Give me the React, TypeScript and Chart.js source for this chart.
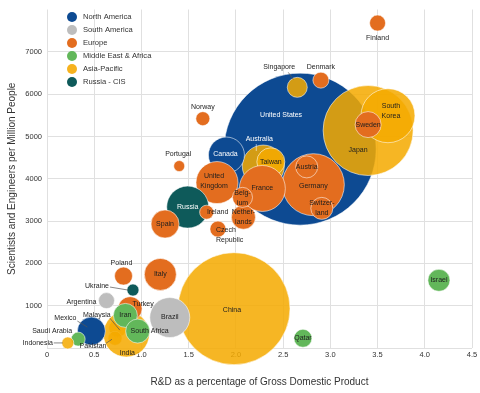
import React, { useEffect, useRef } from "react";
import { Chart, registerables } from "chart.js";
Chart.register(...registerables);

const FONT = "'Liberation Sans', Arial, sans-serif";

const regions = ["North America", "South America", "Europe", "Middle East & Africa", "Asia-Pacific", "Russia - CIS"];
const regionColors = ["#0d4a92", "#bdbdbd", "#e36d1f", "#62b75a", "rgba(244,170,0,0.86)", "#0e5a5a"];
const legendColors = ["#0d4a92", "#bdbdbd", "#e36d1f", "#62b75a", "#f6b21e", "#0e5a5a"];

// countries in drawing order (back to front)
const countries = [
  "United States", "China", "Japan", "South Korea", "Australia", "Taiwan", "Germany", "France",
  "Canada", "United Kingdom", "Russia", "Malaysia", "Pakistan", "India", "Brazil", "Italy", "Spain",
  "Sweden", "Netherlands", "Belgium", "Austria", "Switzerland", "Ireland", "Czech Republic", "Turkey",
  "Iran", "South Africa", "Mexico", "Israel", "Singapore", "Denmark", "Finland", "Norway", "Portugal",
  "Poland", "Ukraine", "Argentina", "Qatar", "Saudi Arabia", "Indonesia",
];
const countryRegion = [
  0, 4, 4, 4, 4, 4, 2, 2,
  0, 2, 5, 4, 4, 4, 1, 2, 2,
  2, 2, 2, 2, 2, 2, 2, 2,
  3, 3, 0, 3, 4, 2, 2, 2, 2,
  2, 5, 1, 3, 3, 4,
];
const rdPercent = [
  2.68, 1.98, 3.40, 3.61, 2.29, 2.37, 2.82, 2.28,
  1.90, 1.80, 1.49, 0.75, 0.72, 0.84, 1.30, 1.20, 1.25,
  3.40, 2.08, 2.07, 2.75, 2.91, 1.69, 1.81, 0.88,
  0.83, 0.96, 0.47, 4.15, 2.65, 2.90, 3.50, 1.65, 1.40,
  0.81, 0.91, 0.63, 2.71, 0.33, 0.22,
];
const scientistsPerMillion = [
  4700, 930, 5140, 5490, 4300, 4400, 3860, 3770,
  4560, 3910, 3330, 470, 230, 330, 720, 1740, 2930,
  5280, 3090, 3560, 4280, 3300, 3210, 2810, 930,
  770, 400, 400, 1600, 6160, 6330, 7680, 5420, 4300,
  1700, 1370, 1120, 230, 210, 120,
];
const bubbleSize = [
  76, 56, 45, 27, 21, 14, 31, 23,
  18, 21, 21, 9, 7, 23, 20, 16, 14,
  13, 12, 10, 11, 11, 7, 8, 12,
  12, 12, 14, 11, 10, 8, 8, 7, 5.5,
  9, 6, 8, 9, 7, 6,
];

const xTickValues = [0, 0.5, 1, 1.5, 2, 2.5, 3, 3.5, 4, 4.5];

type Lbl = { t: string[]; dx: number; dy: number; w?: boolean; left?: boolean; line?: number[] };
const labelStyle: Record<string, Lbl> = {
  "United States": { t: ["United States"], dx: -19, dy: -34, w: true },
  China: { t: ["China"], dx: -2, dy: 1 },
  Japan: { t: ["Japan"], dx: -10, dy: 20 },
  "South Korea": { t: ["South", "Korea"], dx: 3, dy: -10 },
  Australia: { t: ["Australia"], dx: -4, dy: -27, w: true, line: [-7, -22, -7, -15] },
  Taiwan: { t: ["Taiwan"], dx: 0, dy: 0 },
  Germany: { t: ["Germany"], dx: 0, dy: 1 },
  France: { t: ["France"], dx: 0, dy: 0 },
  Canada: { t: ["Canada"], dx: -1, dy: -1, w: true },
  "United Kingdom": { t: ["United", "Kingdom"], dx: -3, dy: -6 },
  Russia: { t: ["Russia"], dx: 0, dy: 0, w: true },
  Malaysia: { t: ["Malaysia"], dx: -21, dy: -13, line: [-8, -10, 2, 2] },
  Pakistan: { t: ["Pakistan"], dx: -22, dy: 8, line: [-9, 5, -3, 1] },
  India: { t: ["India"], dx: 1, dy: 19 },
  Brazil: { t: ["Brazil"], dx: 0, dy: 0 },
  Italy: { t: ["Italy"], dx: 0, dy: 0 },
  Spain: { t: ["Spain"], dx: 0, dy: 0 },
  Sweden: { t: ["Sweden"], dx: 0, dy: 0 },
  Netherlands: { t: ["Nether-", "lands"], dx: 0, dy: -5 },
  Belgium: { t: ["Belg-", "ium"], dx: 0, dy: -4 },
  Austria: { t: ["Austria"], dx: 0, dy: 0 },
  Switzerland: { t: ["Switzer-", "land"], dx: 0, dy: -5 },
  Ireland: { t: ["Ireland"], dx: 11, dy: 0 },
  "Czech Republic": { t: ["Czech", "Republic"], dx: -2, dy: 1, left: true },
  Turkey: { t: ["Turkey"], dx: 13, dy: -5 },
  Iran: { t: ["Iran"], dx: 0, dy: 0 },
  "South Africa": { t: ["South Africa"], dx: 12, dy: 0 },
  Mexico: { t: ["Mexico"], dx: -26, dy: -13, line: [-14, -10, -4, -4] },
  Israel: { t: ["Israel"], dx: 0, dy: 0 },
  Singapore: { t: ["Singapore"], dx: -18, dy: -20, line: [-9, -15, -4, -8] },
  Denmark: { t: ["Denmark"], dx: 0, dy: -13 },
  Finland: { t: ["Finland"], dx: 0, dy: 15 },
  Norway: { t: ["Norway"], dx: 0, dy: -12 },
  Portugal: { t: ["Portugal"], dx: -1, dy: -12 },
  Poland: { t: ["Poland"], dx: -2, dy: -13 },
  Ukraine: { t: ["Ukraine"], dx: -36, dy: -4, line: [-23, -3, -5, 0] },
  Argentina: { t: ["Argentina"], dx: -25, dy: 1 },
  Qatar: { t: ["Qatar"], dx: 0, dy: 0 },
  "Saudi Arabia": { t: ["Saudi Arabia"], dx: -26, dy: -8 },
  Indonesia: { t: ["Indonesia"], dx: -30, dy: 0, line: [-14, 0, -5, 0] },
};

const labelsPlugin = {
  id: "bubbleLabels",
  afterDatasetsDraw(chart: any) {
    const ctx = chart.ctx;
    const meta = chart.getDatasetMeta(0);
    ctx.save();
    ctx.font = `7px ${FONT}`;
    ctx.textBaseline = "middle";
    countries.forEach((name, i) => {
      const el = meta.data[i];
      const s = labelStyle[name];
      if (!el || !s) return;
      const cx = el.x, cy = el.y;
      if (s.line) {
        ctx.strokeStyle = s.w ? "rgba(255,255,255,0.8)" : "#555";
        ctx.lineWidth = 0.7;
        ctx.beginPath();
        ctx.moveTo(cx + s.line[0], cy + s.line[1]);
        ctx.lineTo(cx + s.line[2], cy + s.line[3]);
        ctx.stroke();
      }
      ctx.fillStyle = s.w ? "#ffffff" : "#1e1e1e";
      ctx.textAlign = s.left ? "left" : "center";
      s.t.forEach((line, k) => {
        ctx.fillText(line, cx + s.dx, cy + s.dy + k * 10);
      });
    });
    ctx.restore();
  },
};

const legendPlugin = {
  id: "insideLegend",
  afterDraw(chart: any) {
    const ctx = chart.ctx;
    ctx.save();
    ctx.font = `7.6px ${FONT}`;
    ctx.textBaseline = "middle";
    ctx.textAlign = "left";
    regions.forEach((r, i) => {
      const y = 17 + i * 13;
      ctx.beginPath();
      ctx.arc(72, y, 5, 0, Math.PI * 2);
      ctx.fillStyle = legendColors[i];
      ctx.fill();
      ctx.fillStyle = "#333";
      ctx.fillText(r, 83, y);
    });
    ctx.restore();
  },
};

export default function App() {
  const ref = useRef<HTMLCanvasElement>(null);
  useEffect(() => {
    document.body.style.margin = "0";
    const data = countries.map((c, i) => ({ x: rdPercent[i], y: scientistsPerMillion[i], r: bubbleSize[i] }));
    const chart = new Chart(ref.current as HTMLCanvasElement, {
      type: "bubble",
      data: {
        datasets: [
          {
            label: "Countries",
            data,
            backgroundColor: countries.map((c, i) => regionColors[countryRegion[i]]),
            borderColor: "rgba(255,255,255,0.55)",
            borderWidth: 1,
            clip: false as any,
          } as any,
        ],
      },
      options: {
        responsive: false,
        animation: false,
        events: [],
        layout: { autoPadding: false, padding: { left: 0, right: 8, top: 4, bottom: 0 } },
        plugins: { legend: { display: false }, tooltip: { enabled: false } },
        scales: {
          x: {
            type: "linear",
            min: 0,
            max: 4.5,
            afterBuildTicks: (s: any) => {
              s.ticks = xTickValues.map((v) => ({ value: v }));
            },
            ticks: {
              padding: 2,
              color: "#333",
              font: { size: 7.5, family: FONT },
              callback: (v: any) => (Number(v) === 0 ? "0" : Number(v).toFixed(1)),
            },
            grid: { color: "#e0e0e0", drawTicks: false },
            border: { display: false },
            title: {
              display: true,
              text: "R&D as a percentage of Gross Domestic Product",
              color: "#333",
              font: { size: 10, family: FONT },
              padding: { top: 0, bottom: 5 },
            },
            afterFit: (s: any) => {
              s.height = 45;
            },
          },
          y: {
            type: "linear",
            min: 0,
            max: 8000,
            ticks: {
              stepSize: 1000,
              padding: 5,
              color: "#333",
              font: { size: 7.5, family: FONT },
              callback: (v: any) => (Number(v) === 0 || Number(v) === 8000 ? "" : String(v)),
            },
            grid: {
              drawTicks: false,
              color: (c: any) => (c.tick && c.tick.value === 8000 ? "rgba(0,0,0,0)" : "#e0e0e0"),
            },
            border: { display: false },
            title: {
              display: true,
              text: "Scientists and Engineers per Million People",
              color: "#333",
              font: { size: 10, family: FONT },
              padding: { top: 6, bottom: 0 },
            },
            afterFit: (s: any) => {
              s.width = 47;
            },
          },
        },
      } as any,
      plugins: [labelsPlugin, legendPlugin],
    });
    return () => chart.destroy();
  }, []);
  return <canvas ref={ref} width={480} height={393} style={{ display: "block" }} />;
}
